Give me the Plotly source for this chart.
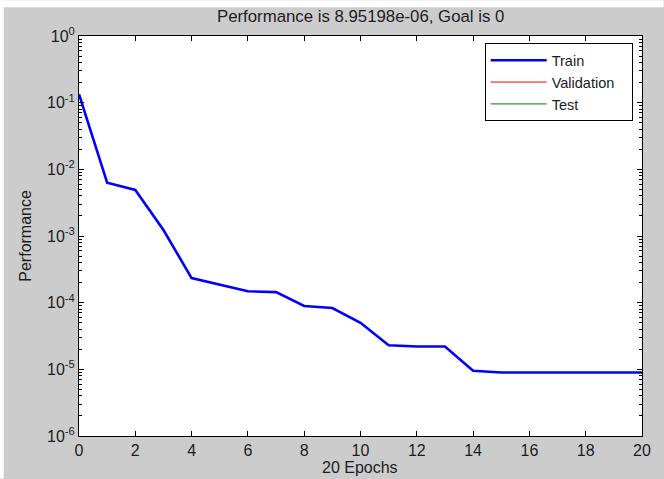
import plotly.graph_objects as go

epochs = list(range(0, 21))
train_perf = [0.134, 0.0063, 0.0049, 0.00123, 0.000234, 0.000186, 0.000148, 0.000144,
              0.000089, 0.000083, 0.00005, 0.000023, 0.000022, 0.000022, 0.0000095,
              0.00000895, 0.00000895, 0.00000895, 0.00000895, 0.00000895, 0.00000895198]
series_names = ["Train", "Validation", "Test"]

x_ticks = list(range(0, 21, 2))
y_tick_exps = [0, -1, -2, -3, -4, -5, -6]
y_ticks = [10.0 ** e for e in y_tick_exps]
y_tick_text = ["10<sup>%d</sup>" % e for e in y_tick_exps]
y_minor = [m * 10.0 ** e for e in range(-6, 0) for m in range(2, 10)]

FONT = "Liberation Sans, Arial, sans-serif"
TXT = "#1c1c24"
W, H = 664, 479
L, R, T, B = 79.3, 21.7, 35.7, 42.5
pw, ph = W - L - R, H - T - B
PAD = "\u00a0\u00a0\u00a0"

fig = go.Figure()
fig.add_trace(go.Scatter(x=epochs, y=train_perf, mode="lines", name=series_names[0],
                         line=dict(color="#0000ff", width=2.6)))
fig.add_trace(go.Scatter(x=[None], y=[None], mode="lines", name=series_names[1] + PAD,
                         line=dict(color="#ff0000", width=1)))
fig.add_trace(go.Scatter(x=[None], y=[None], mode="lines", name=series_names[2],
                         line=dict(color="#008000", width=1)))

axis_common = dict(showgrid=False, zeroline=False, showline=True, linecolor="black",
                   linewidth=1, mirror="ticks", ticks="inside", ticklen=5,
                   tickcolor="black", tickfont=dict(family=FONT, size=16, color=TXT))

fig.update_xaxes(range=[0, 20], tickvals=x_ticks, **axis_common)
fig.update_yaxes(type="log", range=[-6, 0], tickvals=y_ticks, ticktext=y_tick_text,
                 minor=dict(tickvals=y_minor, ticks="inside", ticklen=3, tickcolor="black"),
                 **axis_common)

def px_x(p):
    return (p - L) / pw

def px_y(p):
    return (H - B - p) / ph

fig.update_layout(
    width=W, height=H,
    margin=dict(l=L, r=R, t=T, b=B, pad=0),
    paper_bgcolor="#cccccc", plot_bgcolor="white",
    font=dict(family=FONT, size=16, color=TXT),
    showlegend=True,
    legend=dict(x=px_x(485), y=px_y(43), xanchor="left", yanchor="top",
                bgcolor="white", bordercolor="black", borderwidth=1,
                font=dict(family=FONT, size=14.5, color=TXT), itemwidth=56,
                tracegroupgap=0),
    annotations=[
        dict(text="Performance is 8.95198e-06, Goal is 0", xref="paper", yref="paper",
             x=px_x(361), y=px_y(16), showarrow=False, xanchor="center", yanchor="middle",
             font=dict(family=FONT, size=16.8, color=TXT)),
        dict(text="Performance", xref="paper", yref="paper", x=px_x(25), y=0.5,
             textangle=-90, showarrow=False, xanchor="center", yanchor="middle",
             font=dict(family=FONT, size=16, color=TXT)),
        dict(text="20 Epochs", xref="paper", yref="paper", x=px_x(360), y=px_y(468),
             showarrow=False, xanchor="center", yanchor="middle",
             font=dict(family=FONT, size=16, color=TXT)),
    ],
    shapes=[
        dict(type="rect", xref="paper", yref="paper", x0=px_x(0), x1=px_x(W),
             y0=px_y(7), y1=px_y(0), fillcolor="white", line=dict(width=0), layer="above"),
        dict(type="rect", xref="paper", yref="paper", x0=px_x(0), x1=px_x(4),
             y0=px_y(H), y1=px_y(0), fillcolor="white", line=dict(width=0), layer="above"),
    ],
)

fig.write_html("out.html")
